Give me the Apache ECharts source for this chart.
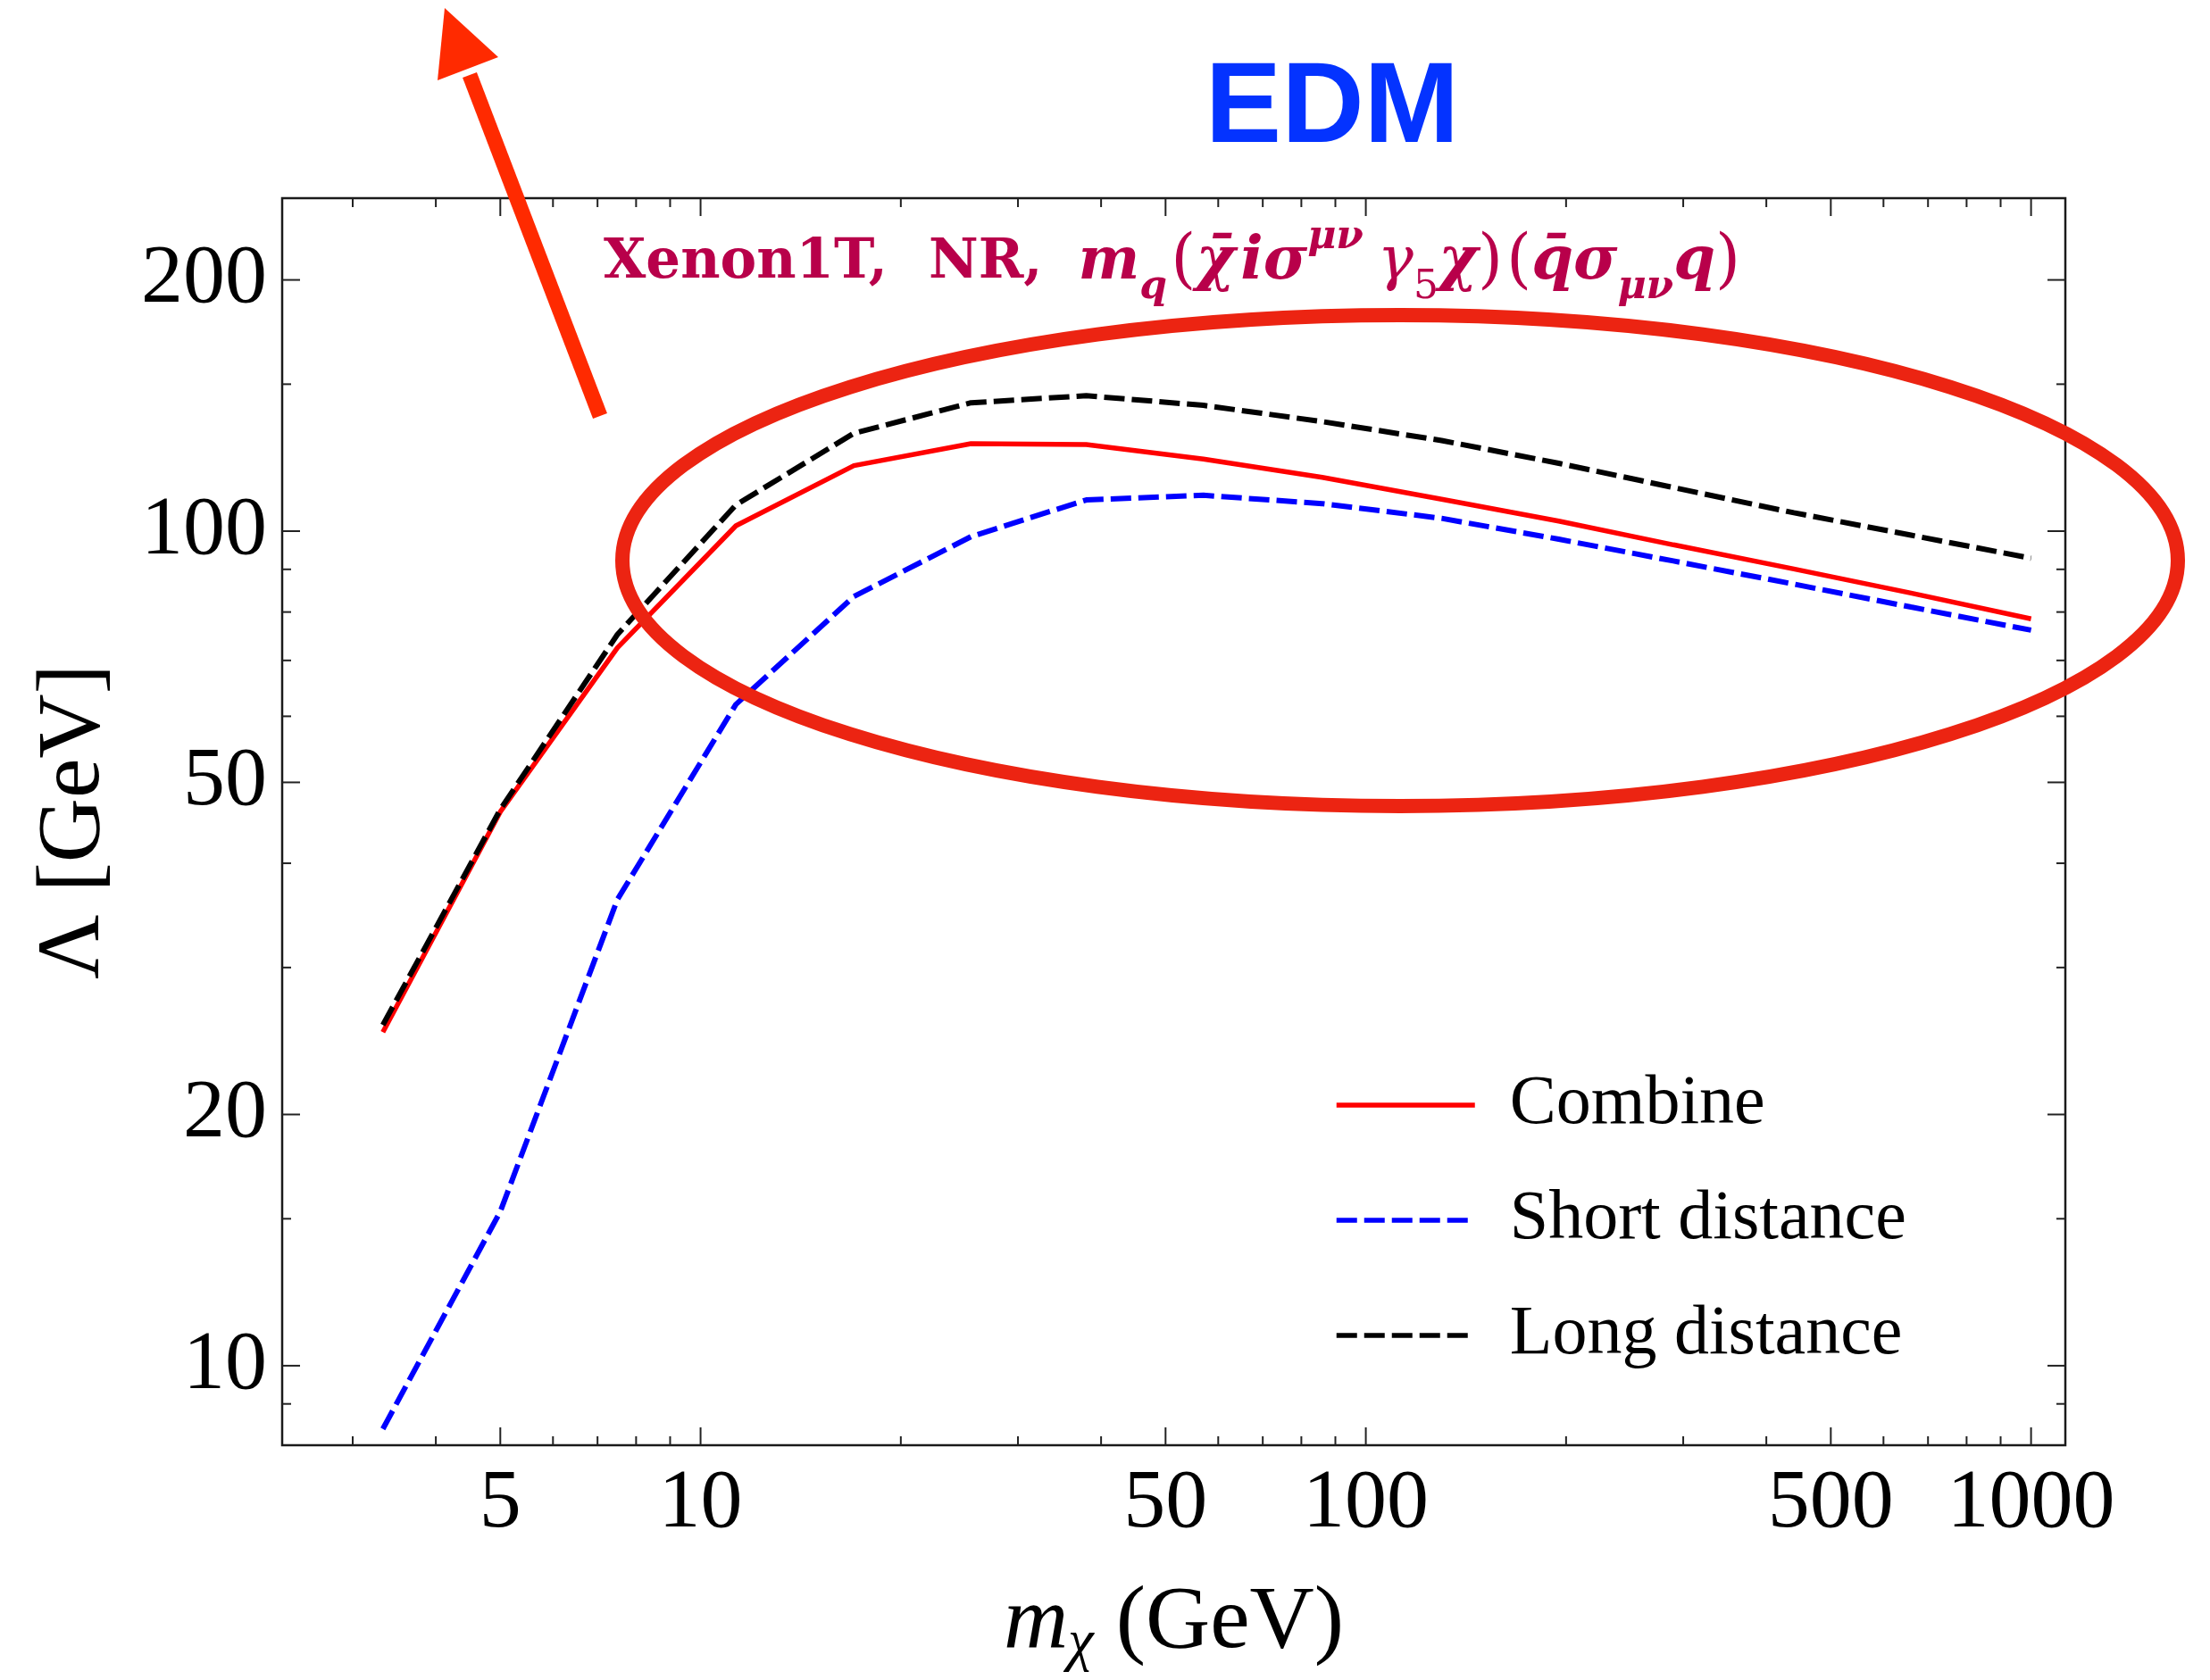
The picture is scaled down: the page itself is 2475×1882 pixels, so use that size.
<!DOCTYPE html>
<html>
<head>
<meta charset="utf-8">
<title>EDM - Xenon1T NR limits</title>
<script src="https://cdn.jsdelivr.net/npm/echarts@6.0.0/dist/echarts.min.js"></script>
<style>
html, body { margin: 0; padding: 0; background: #fff; }
#main { width: 2475px; height: 1882px; }
</style>
</head>
<body>
<div id="main"></div>
<script>
// dark matter mass m_chi (GeV) where the curves have their points
var mass = [3.33, 5, 7.5, 11.3, 17, 25.5, 38, 57, 86, 130, 195, 290, 440, 660, 1000];
// Lambda (GeV) for each curve
var combine = [25.1, 46.1, 72.5, 101.5, 119.8, 127.3, 127, 122, 116, 109.2, 102.8, 96.3, 90.1, 84.3, 78.5];
var shortDist = [8.4, 15.3, 36.2, 62, 83.5, 98.5, 109, 110.4, 107.9, 103.6, 97.8, 92.1, 86.4, 81.1, 76.1];
var longDist = [25.6, 46.4, 75.2, 107.5, 131, 142.5, 145.3, 141.5, 135.3, 128.4, 120.6, 112.8, 105.2, 98.9, 92.8];

// ticks like the Mathematica frame
var xMajor = [5, 10, 50, 100, 500, 1000];
var xMinor = [3, 4, 6, 7, 8, 9, 20, 30, 40, 60, 70, 80, 90, 200, 300, 400, 600, 700, 800, 900];
var yMajor = [10, 20, 50, 100, 200];
var yMinor = [9, 15, 30, 40, 60, 70, 80, 90, 150];

var xMin = 2.35, xMax = 1126, yMin = 8.03, yMax = 250.6;

var serif = "'Liberation Serif', 'Times New Roman', serif";
var label = '#b8004a';

function pairs(ys) {
	return mass.map(function(m, i) {
		return [ m, ys[i] ];
	});
}

// ticks (and labels) on all four sides, placed through the log axes
function tickSeries(values, axis, len, withLabels) {
	var data = values.map(function(v) {
		return axis === 'x' ? [ v, yMin ] : [ xMin, v ];
	});
	return {
		type : 'custom',
		silent : true,
		z : 5,
		data : data,
		renderItem : function(params, api) {
			var cs = params.coordSys;
			var st = { stroke : '#222', lineWidth : 2 };
			var kids = [];
			if (axis === 'x') {
				var v = api.value(0);
				var x = api.coord([ v, yMin ])[0];
				var b = cs.y + cs.height, t = cs.y;
				kids.push({ type : 'line', shape : { x1 : x, y1 : b, x2 : x, y2 : b - len }, style : st });
				kids.push({ type : 'line', shape : { x1 : x, y1 : t, x2 : x, y2 : t + len }, style : st });
				if (withLabels) {
					kids.push({ type : 'text', x : x, y : b + 66, style : {
						text : String(v), fontFamily : serif, fontSize : 94, fill : '#000',
						align : 'center', verticalAlign : 'middle' } });
				}
			} else {
				var w = api.value(1);
				var y = api.coord([ xMin, w ])[1];
				var l = cs.x, r = cs.x + cs.width;
				kids.push({ type : 'line', shape : { x1 : l, y1 : y, x2 : l + len, y2 : y }, style : st });
				kids.push({ type : 'line', shape : { x1 : r, y1 : y, x2 : r - len, y2 : y }, style : st });
				if (withLabels) {
					kids.push({ type : 'text', x : l - 17, y : y, style : {
						text : String(w), fontFamily : serif, fontSize : 94, fill : '#000',
						align : 'right', verticalAlign : 'middle' } });
				}
			}
			return { type : 'group', children : kids };
		}
	};
}

function tok(extra) {
	var s = { fontFamily : 'DejaVu Serif', fontWeight : 'bold', fontSize : 61, lineHeight : 100,
		fill : label, verticalAlign : 'middle' };
	for ( var k in extra) {
		s[k] = extra[k];
	}
	return s;
}

var myChart = echarts.init(document.getElementById('main'));
var option = {
	animation : false,
	backgroundColor : '#fff',
	grid : {
		left : 316,
		right : 162,
		top : 222,
		bottom : 263,
		show : true,
		borderColor : '#1a1a1a',
		borderWidth : 2.5,
		outerBoundsMode : 'none'
	},
	legend : {
		orient : 'vertical',
		left : 1489,
		top : 1193,
		itemWidth : 155,
		itemHeight : 20,
		itemGap : 49,
		itemStyle : { opacity : 0 },
		lineStyle : { width : 5.5 },
		textStyle : {
			fontFamily : serif,
			fontSize : 78,
			lineHeight : 80,
			color : '#000',
			padding : [ 0, 0, 0, 34 ]
		},
		data : [ 'Combine', 'Short distance', 'Long distance' ]
	},
	xAxis : {
		type : 'log',
		logBase : 10,
		min : xMin,
		max : xMax,
		axisLine : { show : false },
		axisTick : { show : false },
		axisLabel : { show : false },
		splitLine : { show : false },
		name : '{i|m}{s|χ} {n|(GeV)}',
		nameLocation : 'middle',
		nameGap : 145,
		nameTextStyle : {
			fontFamily : serif,
			fontSize : 100,
			color : '#000',
			rich : {
				i : { fontFamily : serif, fontStyle : 'italic', fontSize : 100, lineHeight : 110, verticalAlign : 'middle' },
				s : { fontFamily : serif, fontStyle : 'italic', fontSize : 65, lineHeight : 64, verticalAlign : 'bottom' },
				n : { fontFamily : serif, fontSize : 100, lineHeight : 110, verticalAlign : 'middle' }
			}
		}
	},
	yAxis : {
		type : 'log',
		logBase : 10,
		min : yMin,
		max : yMax,
		axisLine : { show : false },
		axisTick : { show : false },
		axisLabel : { show : false },
		splitLine : { show : false },
		name : 'Λ [GeV]',
		nameLocation : 'middle',
		nameGap : 182,
		nameTextStyle : {
			fontFamily : serif,
			fontSize : 100,
			color : '#000'
		}
	},
	series : [ {
		name : 'Combine',
		type : 'line',
		symbol : 'none',
		z : 10,
		data : pairs(combine),
		lineStyle : { color : '#ff0000', width : 5.5 },
		itemStyle : { color : '#ff0000' }
	}, {
		name : 'Short distance',
		type : 'line',
		symbol : 'none',
		z : 11,
		data : pairs(shortDist),
		lineStyle : { color : '#0000ff', width : 6, type : [ 23, 8 ] },
		itemStyle : { color : '#0000ff' }
	}, {
		name : 'Long distance',
		type : 'line',
		symbol : 'none',
		z : 12,
		data : pairs(longDist),
		lineStyle : { color : '#000000', width : 6, type : [ 23, 8 ] },
		itemStyle : { color : '#000000' }
	},
	tickSeries(xMajor, 'x', 20, true),
	tickSeries(xMinor, 'x', 10, false),
	tickSeries(yMajor, 'y', 20, true),
	tickSeries(yMinor, 'y', 10, false) ],
	graphic : [ {
		// model label inside the frame
		type : 'text',
		x : 676,
		y : 295,
		z : 50,
		style : {
			text : '{t|Xenon1T,}{tg|NR,}{mg|m}{sb|q}{pp|(}{m|χ̄}{mi|iσ}{sp|μν}{gg|γ}{sb5|5}{m|χ}{p|)}{pp|(}{m|q̄σ}{sb|μν}{m|q}{p|)}',
			align : 'left',
			verticalAlign : 'middle',
			fill : label,
			rich : {
				t : tok({}),
				tg : tok({ padding : [ 0, 0, 0, 46 ] }),
				mg : tok({ fontStyle : 'italic', fontSize : 65, padding : [ 0, 0, 0, 40 ] }),
				m : tok({ fontStyle : 'italic', fontSize : 67 }),
				mi : tok({ fontStyle : 'italic', fontSize : 67, padding : [ 0, 0, 0, 6 ] }),
				gg : tok({ fontStyle : 'italic', fontWeight : 'normal', fontSize : 67, padding : [ 0, 0, 0, 16 ] }),
				p : tok({ fontWeight : 'normal', fontSize : 72 }),
				pp : tok({ fontWeight : 'normal', fontSize : 72, padding : [ 0, 0, 0, 4 ] }),
				sp : tok({ fontStyle : 'italic', fontSize : 44, lineHeight : 56, verticalAlign : 'top' }),
				sb : tok({ fontStyle : 'italic', fontSize : 44, lineHeight : 56, verticalAlign : 'bottom' }),
				sb5 : tok({ fontWeight : 'normal', fontSize : 44, lineHeight : 56, verticalAlign : 'bottom' })
			}
		}
	}, {
		type : 'text',
		x : 1492,
		y : 124,
		z : 50,
		style : {
			text : 'EDM',
			fontFamily : "'Liberation Sans', Arial, sans-serif",
			fontWeight : 'bold',
			fontSize : 128,
			fill : '#0433ff',
			align : 'center',
			verticalAlign : 'middle'
		}
	}, {
		type : 'ellipse',
		z : 60,
		shape : { cx : 1568, cy : 628, rx : 871, ry : 275 },
		style : { fill : 'none', stroke : '#ec2412', lineWidth : 16 }
	}, {
		type : 'line',
		z : 60,
		shape : { x1 : 672, y1 : 466, x2 : 526, y2 : 84 },
		style : { stroke : '#ff2a00', lineWidth : 17, lineCap : 'butt' }
	}, {
		type : 'polygon',
		z : 60,
		shape : { points : [ [ 498, 9 ], [ 490, 90 ], [ 558, 64 ] ] },
		style : { fill : '#ff2a00' }
	} ]
};
myChart.setOption(option);
</script>
</body>
</html>
